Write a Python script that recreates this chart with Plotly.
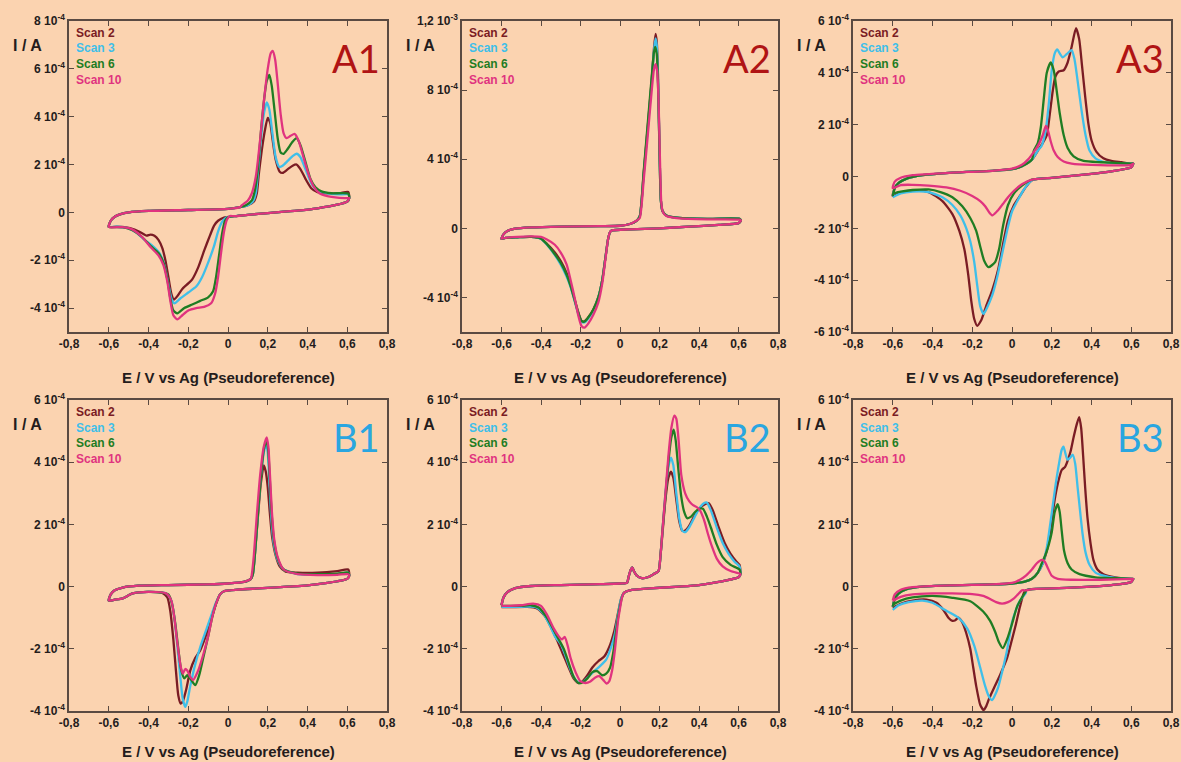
import plotly.graph_objects as go

# ---------------- data (E in V, I in units of 1e-4 A) ----------------
SCANS = ["Scan 2", "Scan 3", "Scan 6", "Scan 10"]
COLORS = ["#7a1c24", "#3fbfe9", "#1f7d23", "#e0337f"]
X_TICKS = [-0.8, -0.6, -0.4, -0.2, 0, 0.2, 0.4, 0.6, 0.8]
X_LABELS = ["-0,8", "-0,6", "-0,4", "-0,2", "0", "0,2", "0,4", "0,6", "0,8"]

# ----- A1 -----
A1_UP = [(-0.60,-0.60),(-0.59,-0.35),(-0.57,-0.18),(-0.54,-0.07),(-0.5,0.0),(-0.4,0.06),(-0.2,0.1),(0.0,0.15),(0.06,0.22)]
A1_RET = [(0.61,0.6),(0.6,0.45),(0.55,0.32),(0.45,0.17),(0.35,0.07),(0.2,-0.03),(0.1,-0.1),(0.03,-0.16)]
A1_S2_AN = [(0.10,0.3),(0.13,0.45),(0.145,0.8),(0.155,1.6),(0.17,2.6),(0.185,3.4),(0.2,3.95),(0.212,3.75),(0.225,3.0),(0.24,2.2),(0.26,1.7),(0.275,1.65),(0.3,1.8),(0.325,1.95),(0.345,2.0),(0.365,1.8),(0.39,1.4),(0.42,1.0),(0.45,0.85),(0.5,0.8),(0.56,0.8),(0.605,0.85)]
A1_S2_CA = [(-0.02,-0.22),(-0.05,-0.35),(-0.07,-0.55),(-0.09,-0.95),(-0.12,-1.6),(-0.15,-2.3),(-0.18,-2.8),(-0.2,-2.97),(-0.23,-3.2),(-0.255,-3.5),(-0.272,-3.65),(-0.285,-3.4),(-0.3,-2.7),(-0.315,-2.0),(-0.33,-1.5),(-0.35,-1.15),(-0.37,-0.98),(-0.39,-0.93),(-0.41,-0.97),(-0.43,-0.88),(-0.47,-0.72),(-0.52,-0.62),(-0.56,-0.6),(-0.6,-0.6)]
A1_S3_AN = [(0.10,0.3),(0.125,0.45),(0.14,0.8),(0.15,1.6),(0.165,3.0),(0.18,4.1),(0.195,4.6),(0.208,4.3),(0.222,3.4),(0.24,2.3),(0.258,1.9),(0.275,1.95),(0.3,2.15),(0.325,2.35),(0.345,2.45),(0.365,2.3),(0.39,1.8),(0.42,1.2),(0.45,0.9),(0.5,0.8),(0.56,0.75),(0.605,0.75)]
A1_S3_CA = [(-0.01,-0.22),(-0.03,-0.4),(-0.05,-0.8),(-0.07,-1.4),(-0.1,-2.1),(-0.13,-2.7),(-0.16,-3.1),(-0.2,-3.35),(-0.24,-3.6),(-0.27,-3.8),(-0.285,-3.6),(-0.3,-3.0),(-0.32,-2.2),(-0.345,-1.7),(-0.38,-1.4),(-0.42,-1.15),(-0.46,-0.85),(-0.51,-0.65),(-0.56,-0.6),(-0.6,-0.6)]
A1_S6_AN = [(0.09,0.3),(0.12,0.5),(0.135,0.9),(0.15,1.8),(0.165,3.3),(0.18,4.6),(0.195,5.5),(0.208,5.75),(0.22,5.3),(0.235,4.2),(0.25,3.1),(0.265,2.5),(0.28,2.45),(0.3,2.65),(0.325,2.95),(0.345,3.1),(0.365,2.8),(0.39,2.1),(0.415,1.4),(0.44,1.05),(0.47,0.88),(0.52,0.8),(0.605,0.78)]
A1_S6_CA = [(0.0,-0.2),(-0.015,-0.35),(-0.03,-0.9),(-0.045,-1.8),(-0.06,-2.7),(-0.075,-3.3),(-0.1,-3.55),(-0.14,-3.7),(-0.18,-3.85),(-0.22,-4.0),(-0.255,-4.22),(-0.275,-4.1),(-0.29,-3.6),(-0.305,-2.8),(-0.325,-2.1),(-0.35,-1.7),(-0.39,-1.4),(-0.43,-1.05),(-0.48,-0.75),(-0.53,-0.62),(-0.6,-0.6)]
A1_S10_AN = [(0.07,0.3),(0.1,0.5),(0.12,0.8),(0.14,1.5),(0.16,2.9),(0.18,4.6),(0.2,6.0),(0.215,6.65),(0.225,6.75),(0.237,6.4),(0.25,5.4),(0.265,4.1),(0.28,3.3),(0.295,3.1),(0.315,3.2),(0.335,3.28),(0.355,3.0),(0.38,2.3),(0.405,1.6),(0.43,1.1),(0.46,0.8),(0.5,0.68),(0.55,0.62),(0.605,0.6)]
A1_S10_CA = [(0.01,-0.15),(-0.005,-0.3),(-0.02,-0.8),(-0.035,-1.7),(-0.05,-2.7),(-0.065,-3.4),(-0.085,-3.8),(-0.12,-3.95),(-0.16,-4.0),(-0.2,-4.1),(-0.23,-4.3),(-0.255,-4.47),(-0.275,-4.3),(-0.29,-3.7),(-0.305,-2.9),(-0.325,-2.2),(-0.35,-1.8),(-0.39,-1.45),(-0.43,-1.05),(-0.48,-0.72),(-0.53,-0.62),(-0.6,-0.6)]

# ----- A2 -----
A2_UP = [(-0.6,-0.6),(-0.59,-0.35),(-0.57,-0.15),(-0.53,-0.02),(-0.45,0.05),(-0.3,0.1),(-0.1,0.13),(0.0,0.15),(0.05,0.25),(0.085,0.45)]
A2_RET = [(0.612,0.45),(0.6,0.3),(0.5,0.2),(0.35,0.1),(0.2,0.0),(0.05,-0.06),(-0.04,-0.12)]
A2_S2_AN = [(0.10,0.7),(0.12,3.2),(0.14,5.8),(0.16,8.5),(0.172,10.4),(0.18,11.25),(0.186,10.8),(0.192,9.0),(0.197,6.3),(0.202,3.5),(0.207,1.6),(0.215,1.0),(0.235,0.75),(0.3,0.6),(0.45,0.55),(0.605,0.55)]
A2_S3_AN = [(0.10,0.7),(0.12,3.1),(0.14,5.7),(0.16,8.4),(0.172,10.3),(0.18,11.0),(0.186,10.6),(0.192,8.9),(0.197,6.3),(0.202,3.5),(0.207,1.6),(0.215,1.0),(0.235,0.75),(0.3,0.6),(0.45,0.55),(0.605,0.55)]
A2_S6_AN = [(0.10,0.7),(0.12,3.3),(0.14,6.0),(0.16,8.7),(0.172,10.2),(0.178,10.5),(0.186,10.1),(0.192,8.6),(0.197,6.1),(0.202,3.4),(0.207,1.6),(0.215,1.0),(0.235,0.75),(0.3,0.6),(0.45,0.55),(0.605,0.55)]
A2_S10_AN = [(0.10,0.6),(0.12,2.8),(0.14,5.3),(0.16,7.9),(0.172,9.2),(0.18,9.5),(0.188,9.1),(0.194,7.8),(0.199,5.6),(0.204,3.2),(0.209,1.5),(0.217,0.95),(0.235,0.72),(0.3,0.58),(0.45,0.52),(0.605,0.5)]
A2_S2_CA = [(-0.05,-0.2),(-0.06,-0.6),(-0.075,-1.8),(-0.09,-3.0),(-0.11,-4.0),(-0.135,-4.7),(-0.16,-5.15),(-0.18,-5.4),(-0.195,-5.35),(-0.21,-4.9),(-0.23,-4.1),(-0.25,-3.3),(-0.27,-2.6),(-0.3,-1.9),(-0.33,-1.4),(-0.37,-0.9),(-0.4,-0.6),(-0.45,-0.5),(-0.52,-0.52),(-0.58,-0.55),(-0.6,-0.6)]
A2_S3_CA = [(-0.05,-0.2),(-0.06,-0.6),(-0.075,-1.8),(-0.09,-3.0),(-0.11,-4.0),(-0.135,-4.75),(-0.16,-5.2),(-0.18,-5.45),(-0.195,-5.4),(-0.21,-5.0),(-0.23,-4.2),(-0.25,-3.4),(-0.27,-2.8),(-0.3,-2.1),(-0.33,-1.55),(-0.37,-0.95),(-0.4,-0.62),(-0.45,-0.5),(-0.52,-0.52),(-0.58,-0.55),(-0.6,-0.6)]
A2_S6_CA = [(-0.05,-0.2),(-0.06,-0.6),(-0.075,-1.8),(-0.09,-3.0),(-0.11,-4.0),(-0.135,-4.7),(-0.16,-5.15),(-0.18,-5.4),(-0.195,-5.35),(-0.21,-4.95),(-0.23,-4.15),(-0.25,-3.35),(-0.27,-2.7),(-0.3,-2.0),(-0.33,-1.5),(-0.37,-0.92),(-0.4,-0.6),(-0.45,-0.5),(-0.52,-0.52),(-0.58,-0.55),(-0.6,-0.6)]
A2_S10_CA = [(-0.05,-0.2),(-0.06,-0.6),(-0.075,-1.9),(-0.09,-3.2),(-0.11,-4.3),(-0.135,-5.0),(-0.16,-5.5),(-0.18,-5.75),(-0.195,-5.65),(-0.21,-5.1),(-0.23,-4.0),(-0.25,-3.0),(-0.27,-2.1),(-0.3,-1.4),(-0.33,-0.95),(-0.37,-0.65),(-0.4,-0.5),(-0.45,-0.47),(-0.52,-0.5),(-0.58,-0.55),(-0.6,-0.6)]

# ----- A3 -----
A3_UP = [(-0.6,-0.75),(-0.59,-0.45),(-0.57,-0.25),(-0.53,-0.08),(-0.45,0.05),(-0.3,0.15),(-0.1,0.22),(0.0,0.28),(0.05,0.4),(0.1,0.65)]
A3_S10_UP = [(-0.6,-0.45),(-0.59,-0.2),(-0.56,-0.05),(-0.5,0.05),(-0.3,0.15),(-0.1,0.22),(0.0,0.3),(0.05,0.45)]
A3_RET = [(0.61,0.5),(0.6,0.35),(0.5,0.2),(0.4,0.1),(0.3,0.02),(0.2,-0.05),(0.12,-0.1)]
A3_S2_AN = [(0.13,1.0),(0.155,1.3),(0.175,1.6),(0.19,2.4),(0.205,3.3),(0.218,3.85),(0.235,4.05),(0.26,4.1),(0.28,4.4),(0.3,5.0),(0.322,5.72),(0.338,5.3),(0.352,4.3),(0.368,3.1),(0.385,2.0),(0.4,1.4),(0.425,0.95),(0.46,0.7),(0.5,0.6),(0.55,0.55),(0.6,0.5)]
A3_S2_CA = [(0.1,-0.15),(0.07,-0.4),(0.04,-0.75),(0.01,-1.1),(-0.02,-1.7),(-0.045,-2.6),(-0.07,-3.6),(-0.1,-4.4),(-0.13,-5.0),(-0.155,-5.55),(-0.175,-5.76),(-0.19,-5.5),(-0.205,-4.8),(-0.22,-3.8),(-0.24,-2.8),(-0.265,-2.1),(-0.3,-1.45),(-0.35,-0.95),(-0.42,-0.6),(-0.5,-0.55),(-0.56,-0.62),(-0.6,-0.75)]
A3_S3_AN = [(0.13,1.0),(0.15,1.2),(0.17,1.8),(0.185,2.8),(0.2,4.1),(0.215,4.75),(0.228,4.9),(0.24,4.75),(0.255,4.6),(0.275,4.72),(0.3,4.88),(0.315,4.5),(0.33,3.7),(0.35,2.55),(0.37,1.6),(0.39,1.0),(0.42,0.7),(0.47,0.55),(0.55,0.5),(0.6,0.5)]
A3_S3_CA = [(0.1,-0.15),(0.06,-0.5),(0.03,-0.9),(0.0,-1.35),(-0.025,-2.1),(-0.05,-3.0),(-0.075,-3.9),(-0.1,-4.6),(-0.125,-5.05),(-0.143,-5.3),(-0.16,-5.0),(-0.175,-4.2),(-0.19,-3.3),(-0.21,-2.5),(-0.23,-2.0),(-0.26,-1.5),(-0.3,-1.1),(-0.35,-0.8),(-0.42,-0.6),(-0.5,-0.58),(-0.56,-0.65),(-0.6,-0.8)]
A3_S6_AN = [(0.11,1.0),(0.13,1.3),(0.145,1.9),(0.16,3.0),(0.175,4.0),(0.195,4.4),(0.21,4.1),(0.225,3.3),(0.24,2.45),(0.26,1.6),(0.28,1.1),(0.31,0.78),(0.36,0.6),(0.45,0.55),(0.6,0.5)]
A3_S6_CA = [(0.1,-0.12),(0.05,-0.35),(0.01,-0.65),(-0.02,-1.1),(-0.045,-1.9),(-0.065,-2.8),(-0.085,-3.3),(-0.118,-3.5),(-0.14,-3.25),(-0.16,-2.7),(-0.18,-2.1),(-0.21,-1.6),(-0.25,-1.15),(-0.3,-0.8),(-0.36,-0.6),(-0.42,-0.5),(-0.5,-0.52),(-0.56,-0.58),(-0.6,-0.65)]
A3_S10_AN = [(0.08,0.65),(0.11,0.95),(0.135,1.25),(0.155,1.6),(0.17,1.95),(0.18,1.8),(0.195,1.35),(0.21,1.0),(0.23,0.75),(0.26,0.58),(0.3,0.5),(0.4,0.45),(0.6,0.45)]
A3_S10_CA = [(0.1,-0.12),(0.05,-0.3),(0.01,-0.55),(-0.02,-0.8),(-0.045,-1.05),(-0.07,-1.3),(-0.098,-1.5),(-0.115,-1.38),(-0.135,-1.15),(-0.16,-0.95),(-0.2,-0.75),(-0.26,-0.55),(-0.33,-0.42),(-0.42,-0.35),(-0.5,-0.32),(-0.56,-0.33),(-0.6,-0.45)]

# ----- B1 -----
B1_UP = [(-0.6,-0.45),(-0.59,-0.25),(-0.57,-0.12),(-0.53,-0.03),(-0.45,0.03),(-0.3,0.05),(-0.1,0.07),(0.0,0.1),(0.08,0.15),(0.115,0.25)]
B1_RET = [(0.61,0.35),(0.6,0.25),(0.5,0.12),(0.4,0.04),(0.3,0.0),(0.15,-0.06),(0.05,-0.1),(-0.02,-0.15)]
B1_S2_AN = [(0.125,0.4),(0.135,1.0),(0.15,2.2),(0.165,3.3),(0.18,3.9),(0.19,3.7),(0.2,3.2),(0.21,2.4),(0.222,1.6),(0.24,1.0),(0.26,0.65),(0.29,0.48),(0.35,0.45),(0.45,0.45),(0.55,0.5),(0.605,0.55)]
B1_S3_AN = [(0.125,0.4),(0.135,1.0),(0.15,2.3),(0.165,3.5),(0.18,4.3),(0.192,4.6),(0.2,4.3),(0.208,3.4),(0.218,2.2),(0.23,1.4),(0.25,0.85),(0.28,0.55),(0.35,0.4),(0.45,0.38),(0.55,0.4),(0.605,0.45)]
B1_S6_AN = [(0.125,0.4),(0.135,1.0),(0.15,2.3),(0.165,3.5),(0.18,4.4),(0.194,4.7),(0.202,4.4),(0.21,3.5),(0.22,2.3),(0.232,1.45),(0.25,0.9),(0.28,0.55),(0.35,0.42),(0.45,0.4),(0.55,0.42),(0.605,0.45)]
B1_S10_AN = [(0.12,0.4),(0.13,1.0),(0.145,2.3),(0.162,3.6),(0.18,4.5),(0.195,4.8),(0.203,4.5),(0.211,3.6),(0.221,2.4),(0.233,1.5),(0.25,0.95),(0.28,0.55),(0.35,0.4),(0.45,0.37),(0.55,0.38),(0.605,0.4)]
B1_S2_CA = [(-0.04,-0.25),(-0.06,-0.55),(-0.08,-0.95),(-0.11,-1.55),(-0.14,-2.05),(-0.165,-2.3),(-0.19,-2.7),(-0.21,-3.3),(-0.228,-3.7),(-0.238,-3.76),(-0.25,-3.5),(-0.262,-2.7),(-0.275,-1.7),(-0.29,-0.8),(-0.305,-0.35),(-0.33,-0.2),(-0.4,-0.17),(-0.48,-0.22),(-0.53,-0.38),(-0.57,-0.42),(-0.6,-0.45)]
B1_S3_CA = [(-0.04,-0.25),(-0.06,-0.5),(-0.08,-0.85),(-0.11,-1.4),(-0.14,-1.95),(-0.165,-2.5),(-0.19,-3.2),(-0.205,-3.7),(-0.215,-3.87),(-0.228,-3.6),(-0.24,-2.9),(-0.255,-1.9),(-0.27,-1.0),(-0.285,-0.45),(-0.31,-0.22),(-0.4,-0.17),(-0.48,-0.22),(-0.53,-0.38),(-0.57,-0.42),(-0.6,-0.45)]
B1_S6_CA = [(-0.04,-0.25),(-0.06,-0.55),(-0.08,-1.0),(-0.1,-1.6),(-0.125,-2.3),(-0.145,-2.85),(-0.165,-3.17),(-0.185,-3.0),(-0.205,-2.85),(-0.22,-2.95),(-0.235,-2.7),(-0.25,-2.0),(-0.265,-1.2),(-0.28,-0.6),(-0.3,-0.25),(-0.4,-0.17),(-0.48,-0.22),(-0.53,-0.38),(-0.57,-0.42),(-0.6,-0.45)]
B1_S10_CA = [(-0.04,-0.25),(-0.06,-0.55),(-0.08,-1.0),(-0.1,-1.6),(-0.125,-2.2),(-0.15,-2.7),(-0.175,-3.0),(-0.19,-2.9),(-0.205,-2.7),(-0.215,-2.65),(-0.228,-2.8),(-0.24,-2.5),(-0.255,-1.8),(-0.27,-1.0),(-0.285,-0.45),(-0.31,-0.22),(-0.4,-0.17),(-0.48,-0.22),(-0.53,-0.38),(-0.57,-0.42),(-0.6,-0.45)]

# ----- B2 -----
B2_UP = [(-0.6,-0.6),(-0.59,-0.35),(-0.57,-0.18),(-0.53,-0.05),(-0.45,0.02),(-0.3,0.05),(-0.1,0.08),(0.0,0.1),(0.035,0.12),(0.045,0.35),(0.055,0.55),(0.062,0.62),(0.07,0.5),(0.085,0.35),(0.11,0.27),(0.14,0.3),(0.17,0.4),(0.195,0.5)]
B2_RET = [(0.61,0.4),(0.6,0.3),(0.5,0.15),(0.4,0.05),(0.3,0.0),(0.15,-0.06),(0.05,-0.12),(0.02,-0.2)]
B2_S2_AN = [(0.205,1.0),(0.215,1.7),(0.23,2.8),(0.245,3.5),(0.258,3.7),(0.27,3.5),(0.285,2.8),(0.3,2.1),(0.315,1.8),(0.33,1.8),(0.35,1.95),(0.375,2.25),(0.4,2.5),(0.43,2.65),(0.45,2.68),(0.47,2.45),(0.5,1.9),(0.53,1.4),(0.56,1.05),(0.59,0.8),(0.605,0.7)]
B2_S3_AN = [(0.205,1.0),(0.215,1.8),(0.23,3.0),(0.245,3.85),(0.258,4.15),(0.27,3.9),(0.285,3.0),(0.3,2.2),(0.315,1.8),(0.33,1.75),(0.35,1.9),(0.375,2.2),(0.4,2.5),(0.425,2.68),(0.44,2.7),(0.46,2.45),(0.49,1.9),(0.52,1.4),(0.55,1.05),(0.58,0.8),(0.605,0.65)]
B2_S6_AN = [(0.205,1.0),(0.215,1.8),(0.23,2.9),(0.245,4.0),(0.26,4.8),(0.272,5.05),(0.282,4.7),(0.295,3.8),(0.31,2.9),(0.325,2.4),(0.34,2.2),(0.36,2.25),(0.38,2.4),(0.4,2.5),(0.42,2.5),(0.44,2.25),(0.46,1.9),(0.49,1.35),(0.52,0.95),(0.56,0.7),(0.605,0.55)]
B2_S10_AN = [(0.205,1.0),(0.215,1.8),(0.23,3.0),(0.245,4.2),(0.26,5.1),(0.275,5.5),(0.285,5.4),(0.298,4.6),(0.31,3.6),(0.33,3.0),(0.35,2.75),(0.37,2.62),(0.39,2.55),(0.405,2.45),(0.425,2.15),(0.445,1.7),(0.465,1.3),(0.49,0.9),(0.52,0.65),(0.56,0.5),(0.605,0.42)]
B2_S2_CA = [(0.005,-0.4),(-0.01,-0.85),(-0.03,-1.45),(-0.055,-1.95),(-0.08,-2.25),(-0.11,-2.4),(-0.14,-2.6),(-0.165,-2.85),(-0.19,-3.05),(-0.21,-3.1),(-0.235,-2.95),(-0.26,-2.6),(-0.29,-2.15),(-0.32,-1.7),(-0.35,-1.3),(-0.38,-0.95),(-0.42,-0.7),(-0.47,-0.65),(-0.55,-0.66),(-0.6,-0.66)]
B2_S3_CA = [(0.005,-0.4),(-0.01,-0.9),(-0.025,-1.5),(-0.045,-1.95),(-0.07,-2.35),(-0.1,-2.55),(-0.13,-2.72),(-0.16,-2.9),(-0.185,-3.05),(-0.205,-3.1),(-0.23,-2.95),(-0.255,-2.6),(-0.28,-2.15),(-0.3,-1.85),(-0.315,-1.72),(-0.33,-1.6),(-0.355,-1.25),(-0.39,-0.85),(-0.43,-0.65),(-0.5,-0.65),(-0.6,-0.65)]
B2_S6_CA = [(0.01,-0.35),(-0.005,-0.8),(-0.02,-1.45),(-0.035,-2.15),(-0.05,-2.6),(-0.07,-2.8),(-0.09,-2.85),(-0.115,-2.72),(-0.14,-2.75),(-0.165,-2.95),(-0.19,-3.08),(-0.21,-3.1),(-0.235,-2.9),(-0.26,-2.45),(-0.285,-2.0),(-0.31,-1.7),(-0.335,-1.4),(-0.37,-1.0),(-0.41,-0.68),(-0.45,-0.6),(-0.5,-0.62),(-0.6,-0.62)]
B2_S10_CA = [(0.01,-0.35),(0.0,-0.7),(-0.01,-1.1),(-0.025,-2.0),(-0.04,-2.7),(-0.055,-3.05),(-0.068,-3.12),(-0.085,-3.0),(-0.105,-2.88),(-0.125,-2.92),(-0.15,-3.05),(-0.175,-3.1),(-0.2,-3.05),(-0.225,-2.75),(-0.25,-2.3),(-0.265,-1.9),(-0.28,-1.62),(-0.295,-1.7),(-0.31,-1.6),(-0.335,-1.35),(-0.37,-0.9),(-0.4,-0.62),(-0.44,-0.55),(-0.5,-0.6),(-0.56,-0.62),(-0.6,-0.62)]

# ----- B3 -----
B3_UP = [(-0.6,-0.65),(-0.59,-0.4),(-0.57,-0.22),(-0.53,-0.08),(-0.45,0.0),(-0.3,0.04),(-0.1,0.07),(0.0,0.1),(0.06,0.15),(0.1,0.25)]
B3_S10_UP = [(-0.6,-0.45),(-0.59,-0.25),(-0.56,-0.1),(-0.5,-0.02),(-0.3,0.04),(-0.1,0.07),(0.0,0.12),(0.04,0.22)]
B3_RET = [(0.61,0.25),(0.6,0.15),(0.5,0.05),(0.35,-0.02),(0.2,-0.06),(0.1,-0.08),(0.07,-0.12)]
B3_S2_AN = [(0.13,0.45),(0.155,0.75),(0.175,1.15),(0.19,1.7),(0.2,2.15),(0.215,2.8),(0.23,3.3),(0.25,3.75),(0.267,3.85),(0.28,4.05),(0.295,4.35),(0.31,4.8),(0.325,5.2),(0.338,5.45),(0.348,5.1),(0.358,4.2),(0.368,3.2),(0.38,2.2),(0.395,1.4),(0.41,0.85),(0.43,0.55),(0.46,0.4),(0.52,0.3),(0.605,0.25)]
B3_S3_AN = [(0.13,0.45),(0.155,0.75),(0.175,1.25),(0.19,1.9),(0.205,2.6),(0.22,3.3),(0.235,3.9),(0.25,4.4),(0.259,4.5),(0.268,4.3),(0.279,4.08),(0.293,4.15),(0.306,4.24),(0.318,3.95),(0.33,3.2),(0.343,2.4),(0.355,1.7),(0.37,1.1),(0.39,0.7),(0.42,0.45),(0.46,0.35),(0.52,0.28),(0.605,0.25)]
B3_S6_AN = [(0.13,0.45),(0.15,0.75),(0.17,1.05),(0.185,1.35),(0.2,1.75),(0.215,2.4),(0.23,2.65),(0.24,2.4),(0.25,1.8),(0.262,1.15),(0.28,0.75),(0.3,0.55),(0.34,0.4),(0.42,0.3),(0.52,0.27),(0.605,0.25)]
B3_S10_AN = [(0.07,0.35),(0.1,0.55),(0.125,0.75),(0.15,0.86),(0.165,0.8),(0.18,0.6),(0.2,0.35),(0.23,0.25),(0.3,0.22),(0.45,0.22),(0.605,0.25)]
B3_S2_CA = [(0.06,-0.2),(0.04,-0.65),(0.02,-1.2),(0.0,-1.7),(-0.025,-2.3),(-0.06,-2.84),(-0.09,-3.25),(-0.115,-3.6),(-0.13,-3.85),(-0.143,-3.97),(-0.16,-3.8),(-0.18,-3.2),(-0.195,-2.6),(-0.21,-2.0),(-0.23,-1.5),(-0.25,-1.15),(-0.27,-1.0),(-0.285,-1.08),(-0.3,-1.1),(-0.32,-1.0),(-0.345,-0.75),(-0.38,-0.52),(-0.43,-0.42),(-0.5,-0.45),(-0.56,-0.55),(-0.6,-0.68)]
B3_S3_CA = [(0.07,-0.2),(0.04,-0.45),(0.02,-0.75),(0.0,-1.15),(-0.025,-2.05),(-0.05,-2.75),(-0.07,-3.25),(-0.09,-3.55),(-0.1,-3.65),(-0.115,-3.55),(-0.135,-3.2),(-0.16,-2.6),(-0.19,-1.9),(-0.225,-1.35),(-0.27,-1.0),(-0.33,-0.78),(-0.4,-0.52),(-0.45,-0.45),(-0.52,-0.5),(-0.57,-0.6),(-0.6,-0.75)]
B3_S6_CA = [(0.07,-0.15),(0.05,-0.35),(0.025,-0.65),(0.0,-1.2),(-0.025,-1.7),(-0.046,-1.98),(-0.065,-1.8),(-0.085,-1.45),(-0.11,-1.1),(-0.145,-0.8),(-0.21,-0.47),(-0.3,-0.36),(-0.4,-0.3),(-0.5,-0.35),(-0.56,-0.45),(-0.6,-0.58)]
B3_S10_CA = [(0.05,-0.12),(0.03,-0.25),(0.01,-0.38),(-0.02,-0.5),(-0.05,-0.55),(-0.08,-0.5),(-0.11,-0.4),(-0.145,-0.3),(-0.2,-0.24),(-0.3,-0.22),(-0.4,-0.22),(-0.5,-0.25),(-0.56,-0.33),(-0.6,-0.46)]

# y ticks per panel (values in 1e-4 A) and their labels
YT_A1 = [-4, -2, 0, 2, 4, 6, 8]
YL_A1 = ["-4 10<sup>-4</sup>", "-2 10<sup>-4</sup>", "0", "2 10<sup>-4</sup>", "4 10<sup>-4</sup>", "6 10<sup>-4</sup>", "8 10<sup>-4</sup>"]
YT_A2 = [-4, 0, 4, 8, 12]
YL_A2 = ["-4 10<sup>-4</sup>", "0", "4 10<sup>-4</sup>", "8 10<sup>-4</sup>", "1,2 10<sup>-3</sup>"]
YT_A3 = [-6, -4, -2, 0, 2, 4, 6]
YL_A3 = ["-6 10<sup>-4</sup>", "-4 10<sup>-4</sup>", "-2 10<sup>-4</sup>", "0", "2 10<sup>-4</sup>", "4 10<sup>-4</sup>", "6 10<sup>-4</sup>"]
YT_B = [-4, -2, 0, 2, 4, 6]
YL_B = ["-4 10<sup>-4</sup>", "-2 10<sup>-4</sup>", "0", "2 10<sup>-4</sup>", "4 10<sup>-4</sup>", "6 10<sup>-4</sup>"]

# ---------------- figure ----------------
W, H = 1181, 762
BG = "#fbd3b0"
AX = "#5a4a42"
FONT = "Liberation Sans"
TXT = "#241c1c"

def loops(up, ret, ans, cas, ups=None):
    out = []
    for i, (an, ca) in enumerate(zip(ans, cas)):
        u = ups[i] if ups else up
        pts = u + an + ret + ca
        out.append(([p[0] for p in pts], [p[1] for p in pts]))
    return out

panels = [
    dict(name="A1", col=0, row=0, yr=[-5, 8], yt=YT_A1, yl=YL_A1, lc="#b01414",
         curves=loops(A1_UP, A1_RET, [A1_S2_AN, A1_S3_AN, A1_S6_AN, A1_S10_AN], [A1_S2_CA, A1_S3_CA, A1_S6_CA, A1_S10_CA])),
    dict(name="A2", col=1, row=0, yr=[-6, 12], yt=YT_A2, yl=YL_A2, lc="#b01414",
         curves=loops(A2_UP, A2_RET, [A2_S2_AN, A2_S3_AN, A2_S6_AN, A2_S10_AN], [A2_S2_CA, A2_S3_CA, A2_S6_CA, A2_S10_CA])),
    dict(name="A3", col=2, row=0, yr=[-6, 6], yt=YT_A3, yl=YL_A3, lc="#b01414",
         curves=loops(A3_UP, A3_RET, [A3_S2_AN, A3_S3_AN, A3_S6_AN, A3_S10_AN], [A3_S2_CA, A3_S3_CA, A3_S6_CA, A3_S10_CA],
                      ups=[A3_UP, A3_UP, A3_UP, A3_S10_UP])),
    dict(name="B1", col=0, row=1, yr=[-4, 6], yt=YT_B, yl=YL_B, lc="#2aa6e0",
         curves=loops(B1_UP, B1_RET, [B1_S2_AN, B1_S3_AN, B1_S6_AN, B1_S10_AN], [B1_S2_CA, B1_S3_CA, B1_S6_CA, B1_S10_CA])),
    dict(name="B2", col=1, row=1, yr=[-4, 6], yt=YT_B, yl=YL_B, lc="#2aa6e0",
         curves=loops(B2_UP, B2_RET, [B2_S2_AN, B2_S3_AN, B2_S6_AN, B2_S10_AN], [B2_S2_CA, B2_S3_CA, B2_S6_CA, B2_S10_CA])),
    dict(name="B3", col=2, row=1, yr=[-4, 6], yt=YT_B, yl=YL_B, lc="#2aa6e0",
         curves=loops(B3_UP, B3_RET, [B3_S2_AN, B3_S3_AN, B3_S6_AN, B3_S10_AN], [B3_S2_CA, B3_S3_CA, B3_S6_CA, B3_S10_CA],
                      ups=[B3_UP, B3_UP, B3_UP, B3_S10_UP])),
]

COL_X = [(69, 387), (462, 778), (853, 1171)]
ROW_Y = [(21, 332), (400, 711)]
XTITLE_Y = [377, 751]

fig = go.Figure()
annotations = []
for k, p in enumerate(panels, start=1):
    xs = "" if k == 1 else str(k)
    x0, x1 = COL_X[p["col"]]
    y0, y1 = ROW_Y[p["row"]]
    for (xv, yv), col, nm in zip(p["curves"], COLORS, SCANS):
        fig.add_trace(go.Scatter(x=xv, y=yv, mode="lines", name=nm, showlegend=False,
                                 line=dict(color=col, width=2.3, shape="spline", smoothing=0.6),
                                 xaxis="x" + xs, yaxis="y" + xs, hoverinfo="skip"))
    fig.layout["xaxis" + xs] = dict(
        domain=[x0 / W, x1 / W], anchor="y" + xs, range=[-0.8, 0.8], automargin=False,
        tickvals=X_TICKS, ticktext=X_LABELS, ticks="inside", ticklen=5, tickcolor=AX,
        showline=True, linecolor=AX, linewidth=1.5, mirror="ticks", showgrid=False, zeroline=False,
        tickfont=dict(family=FONT, size=12, color=TXT, weight="bold"))
    fig.layout["yaxis" + xs] = dict(
        domain=[1 - y1 / H, 1 - y0 / H], anchor="x" + xs, range=p["yr"], automargin=False,
        tickvals=p["yt"], ticktext=p["yl"], ticks="inside", ticklen=5, tickcolor=AX,
        showline=True, linecolor=AX, linewidth=1.5, mirror="ticks", showgrid=False, zeroline=False,
        tickfont=dict(family=FONT, size=12, color=TXT, weight="bold"))
    # axis titles
    annotations.append(dict(x=(x0 + x1) / 2 / W, y=1 - XTITLE_Y[p["row"]] / H, xref="paper", yref="paper",
                            text="E / V vs Ag (Pseudoreference)", showarrow=False,
                            xanchor="center", yanchor="middle",
                            font=dict(family=FONT, size=15, color=TXT, weight="bold")))
    annotations.append(dict(x=(x0 - 42) / W, y=1 - (y0 + 24) / H, xref="paper", yref="paper",
                            text="I / A", showarrow=False, xanchor="center", yanchor="middle",
                            font=dict(family=FONT, size=16, color=TXT, weight="bold")))
    # scan legend
    for j, (nm, col) in enumerate(zip(SCANS, COLORS)):
        annotations.append(dict(x=(x0 + 5) / W, y=1 - (y0 + 12 + 15.5 * j) / H, xref="paper", yref="paper",
                                text=nm, showarrow=False, xanchor="left", yanchor="middle",
                                font=dict(family=FONT, size=12, color=col, weight="bold")))
    # panel label
    annotations.append(dict(x=(x1 - 31) / W, y=1 - (y0 + 37) / H, xref="paper", yref="paper",
                            text=p["name"], showarrow=False, xanchor="center", yanchor="middle",
                            font=dict(family="Lato", size=38, color=p["lc"])))

fig.update_layout(width=W, height=H, margin=dict(l=0, r=0, t=0, b=0, autoexpand=False),
                  paper_bgcolor=BG, plot_bgcolor=BG, annotations=annotations, showlegend=False)
fig.write_html("out.html", config={"displayModeBar": False})

# remove the browser's default page margin so the figure sits at the window origin
with open("out.html", "r", encoding="utf-8") as f:
    html = f.read()
html = html.replace("<head>", "<head><style>html,body{margin:0;padding:0;background:%s;}</style>" % BG, 1)
with open("out.html", "w", encoding="utf-8") as f:
    f.write(html)
